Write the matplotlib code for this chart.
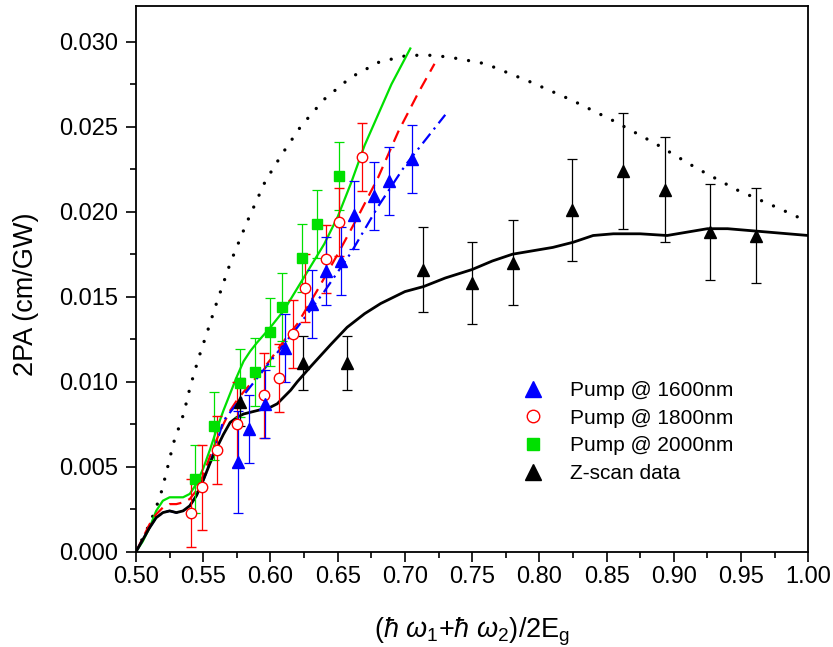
import matplotlib
matplotlib.use("Agg")
import matplotlib.pyplot as plt
from matplotlib.ticker import MultipleLocator, FormatStrFormatter
from matplotlib.lines import Line2D

plt.rcParams['font.family'] = ['Liberation Sans', 'DejaVu Sans']
plt.rcParams['mathtext.fontset'] = 'custom'
plt.rcParams['mathtext.rm'] = 'Liberation Sans'
plt.rcParams['mathtext.it'] = 'Liberation Sans:italic'
plt.rcParams['mathtext.fallback'] = 'stix'

# ---------------- data ----------------
x_1600 = [0.5757, 0.5844, 0.5957, 0.6107, 0.6306, 0.6416, 0.6522, 0.6622, 0.6771, 0.6883, 0.7052]
y_1600 = [0.0053, 0.0072, 0.0087, 0.0120, 0.0146, 0.0165, 0.0171, 0.0198, 0.0209, 0.0218, 0.0231]
err_1600 = [0.003, 0.002, 0.002, 0.002, 0.002, 0.002, 0.002, 0.002, 0.002, 0.002, 0.002]

x_1800 = [0.541, 0.549, 0.560, 0.575, 0.595, 0.606, 0.617, 0.626, 0.641, 0.651, 0.668]
y_1800 = [0.00225, 0.0038, 0.0060, 0.0075, 0.0092, 0.0102, 0.0128, 0.0155, 0.0172, 0.0194, 0.0232]
err_1800 = [0.002, 0.0025, 0.002, 0.0025, 0.0025, 0.002, 0.002, 0.002, 0.002, 0.002, 0.002]

x_2000 = [0.5436, 0.5578, 0.5777, 0.5882, 0.5996, 0.6088, 0.6238, 0.6343, 0.651]
y_2000 = [0.0043, 0.0074, 0.0099, 0.0106, 0.0129, 0.0144, 0.0173, 0.0193, 0.0221]
err_2000 = [0.002, 0.002, 0.002, 0.002, 0.002, 0.002, 0.002, 0.002, 0.002]

x_z = [0.5776, 0.6244, 0.6572, 0.7138, 0.7497, 0.7803, 0.8239, 0.8620, 0.8931, 0.9271, 0.9612]
y_z = [0.0088, 0.0111, 0.0111, 0.0166, 0.0158, 0.0170, 0.0201, 0.0224, 0.0213, 0.0188, 0.0186]
err_z = [0.0014, 0.0016, 0.0016, 0.0025, 0.0024, 0.0025, 0.0030, 0.0034, 0.0031, 0.0028, 0.0028]

# theory curves
x_black = [0.5, 0.505, 0.51, 0.515, 0.52, 0.525, 0.53, 0.535, 0.54, 0.545, 0.55, 0.555, 0.56,
           0.565, 0.57, 0.575, 0.58, 0.59, 0.60, 0.605, 0.61, 0.615, 0.62, 0.63, 0.645, 0.657,
           0.67, 0.682, 0.70, 0.714, 0.73, 0.75, 0.765, 0.78, 0.795, 0.81, 0.825, 0.84, 0.855,
           0.875, 0.895, 0.91, 0.925, 0.94, 0.955, 0.97, 0.985, 1.0]
y_black = [0.0, 0.0007, 0.0014, 0.0020, 0.0023, 0.0024, 0.0023, 0.0024, 0.0027, 0.0033, 0.0042,
           0.0052, 0.0061, 0.0069, 0.0076, 0.0079, 0.0081, 0.0083, 0.0085, 0.0087, 0.0091,
           0.0095, 0.0100, 0.0109, 0.0122, 0.0132, 0.0140, 0.0146, 0.0153, 0.0156, 0.0161,
           0.0166, 0.0171, 0.0175, 0.0177, 0.0179, 0.0182, 0.0186, 0.0187, 0.0187, 0.0186,
           0.0188, 0.0190, 0.0190, 0.0189, 0.0188, 0.0187, 0.0186]

x_dot = [0.5, 0.505, 0.5105, 0.515, 0.5192, 0.523, 0.5279, 0.5354, 0.5403, 0.5466, 0.5533, 0.5598,
         0.5702, 0.5826, 0.5962, 0.6087, 0.6224, 0.6398, 0.6597, 0.6808, 0.702, 0.722, 0.74,
         0.76, 0.7928, 0.8239, 0.855, 0.886, 0.9171, 0.947, 0.9781, 1.0]
y_dot = [0.0, 0.0008, 0.0017, 0.0026, 0.0036, 0.0048, 0.0064, 0.0081, 0.0097, 0.0114, 0.0130,
         0.0146, 0.0170, 0.0194, 0.0218, 0.0234, 0.0250, 0.0266, 0.0279, 0.0288, 0.0292,
         0.0292, 0.0290, 0.0287, 0.02765, 0.02657, 0.02535, 0.02402, 0.02255, 0.02128,
         0.0202, 0.0194]

x_red = [0.5, 0.505, 0.51, 0.515, 0.52, 0.525, 0.53, 0.535, 0.54, 0.545, 0.55, 0.555, 0.56,
         0.565, 0.57, 0.575, 0.58, 0.59, 0.60, 0.61, 0.62, 0.635, 0.65, 0.665, 0.68, 0.695,
         0.71, 0.722]
y_red = [0.0, 0.0008, 0.0016, 0.0022, 0.0026, 0.0028, 0.0028, 0.0029, 0.0031, 0.0036, 0.0045,
         0.0056, 0.0066, 0.0075, 0.0083, 0.0089, 0.0094, 0.0103, 0.0113, 0.0124, 0.0134,
         0.0154, 0.0175, 0.0197, 0.0220, 0.0247, 0.0270, 0.0287]

x_blue = [0.5, 0.505, 0.51, 0.515, 0.52, 0.525, 0.53, 0.535, 0.54, 0.545, 0.55, 0.555, 0.56,
          0.565, 0.58, 0.60, 0.62, 0.64, 0.66, 0.68, 0.70, 0.73]
y_blue = [0.0, 0.0007, 0.0014, 0.0020, 0.0023, 0.0024, 0.0023, 0.0024, 0.0027, 0.0033, 0.0042,
          0.0052, 0.0064, 0.0077, 0.0092, 0.0112, 0.0132, 0.0153, 0.0176, 0.0203, 0.0227, 0.0257]

x_green = [0.5, 0.505, 0.51, 0.515, 0.52, 0.525, 0.53, 0.535, 0.54, 0.545, 0.55, 0.555, 0.56,
           0.565, 0.57, 0.575, 0.58, 0.585, 0.59, 0.60, 0.61, 0.62, 0.63, 0.64, 0.65, 0.66,
           0.67, 0.68, 0.69, 0.70, 0.704]
y_green = [0.0, 0.0006, 0.0014, 0.0024, 0.0030, 0.0032, 0.0032, 0.0032, 0.0034, 0.0040, 0.0049,
           0.0060, 0.0072, 0.0083, 0.0093, 0.0103, 0.0112, 0.0118, 0.0123, 0.0132, 0.0142,
           0.0155, 0.0168, 0.0181, 0.0197, 0.0217, 0.0239, 0.0257, 0.0275, 0.0290, 0.0296]

labels = ['Pump @ 1600nm', 'Pump @ 1800nm', 'Pump @ 2000nm', 'Z-scan data']

BLUE = '#0000ff'
RED = '#ff0000'
GREEN = '#00e000'
BLACK = '#000000'

# ---------------- figure ----------------
W, H = 833, 647
fig = plt.figure(figsize=(W / 100, H / 100), dpi=100)
x0, x1, ytop, ybot = 136, 808.3, 6.0, 551.7
ax = fig.add_axes([x0 / W, 1 - ybot / H, (x1 - x0) / W, (ybot - ytop) / H])

# curves
ax.plot(x_dot, y_dot, color=BLACK, lw=2.4, linestyle=(0, (0.01, 3.9)),
        dash_capstyle='round', zorder=2)
ax.plot(x_green, y_green, color=GREEN, lw=1.6, zorder=2)
ax.plot(x_red, y_red, color=RED, lw=1.6, linestyle=(0, (5.5, 3.4)), zorder=2)
ax.plot(x_blue, y_blue, color=BLUE, lw=1.6, linestyle=(0, (5.5, 2.5, 1.0, 2.5)), zorder=2)
ax.plot(x_black, y_black, color=BLACK, lw=2.0, zorder=3)

# data with error bars
common = dict(elinewidth=0.9, capsize=3.6, capthick=0.9, linestyle='none', zorder=4)
ax.errorbar(x_2000, y_2000, yerr=err_2000, fmt='s', ms=6.5, mfc=GREEN, mec=GREEN,
            ecolor=GREEN, **common)
ax.errorbar(x_1800, y_1800, yerr=err_1800, fmt='o', ms=7.5, mfc='white', mec=RED, mew=1.0,
            ecolor=RED, **common)
ax.errorbar(x_1600, y_1600, yerr=err_1600, fmt='^', ms=9, mfc=BLUE, mec=BLUE,
            ecolor=BLUE, **common)
ax.errorbar(x_z, y_z, yerr=err_z, fmt='^', ms=9, mfc=BLACK, mec=BLACK,
            ecolor=BLACK, **common)

# axes
ax.set_xlim(0.5, 1.0)
ax.set_ylim(0.0, 0.0321)
ax.xaxis.set_major_locator(MultipleLocator(0.05))
ax.xaxis.set_minor_locator(MultipleLocator(0.025))
ax.yaxis.set_major_locator(MultipleLocator(0.005))
ax.yaxis.set_minor_locator(MultipleLocator(0.0025))
ax.xaxis.set_major_formatter(FormatStrFormatter('%.2f'))
ax.yaxis.set_major_formatter(FormatStrFormatter('%.3f'))

for s in ax.spines.values():
    s.set_linewidth(1.3)

ax.tick_params(which='major', direction='out', length=7, width=1.2, labelsize=17,
               top=False, right=False)
ax.tick_params(which='minor', direction='out', length=4, width=1.2, top=False, right=False)
ax.tick_params(axis='x', which='major', pad=3)
ax.tick_params(axis='y', which='major', pad=6)

ax.set_ylabel('2PA (cm/GW)', fontsize=19.5)
ax.yaxis.set_label_coords(-0.145, 0.472)
ax.set_xlabel(r'(${\hbar}$ $\omega_1$+${\hbar}$ $\omega_2$)/2E$_\mathregular{g}$', fontsize=19.5)
ax.xaxis.set_label_coords(0.5, -0.117)

# legend (markers only)
handles = [
    Line2D([], [], linestyle='none', marker='^', ms=11, mfc=BLUE, mec=BLUE),
    Line2D([], [], linestyle='none', marker='o', ms=9, mfc='white', mec=RED, mew=1.0),
    Line2D([], [], linestyle='none', marker='s', ms=8.5, mfc=GREEN, mec=GREEN),
    Line2D([], [], linestyle='none', marker='^', ms=11, mfc=BLACK, mec=BLACK),
]
leg = ax.legend(handles, labels, loc='upper left', bbox_to_anchor=(0.575, 0.313),
                frameon=False, fontsize=15, handlelength=1.0, handletextpad=1.28,
                labelspacing=0.42, borderpad=0, borderaxespad=0)

fig.savefig('out.png', dpi=100)
